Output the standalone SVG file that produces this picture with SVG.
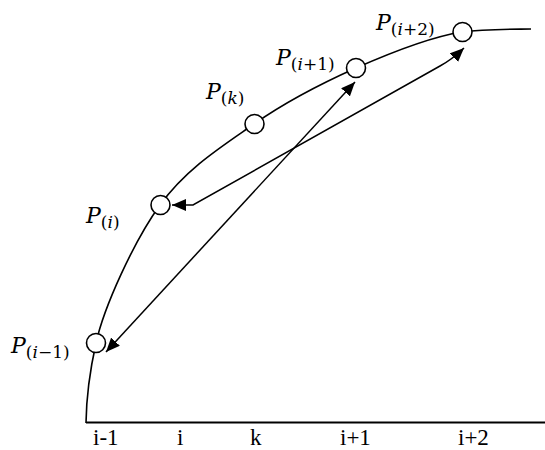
<svg xmlns="http://www.w3.org/2000/svg" width="545" height="450" viewBox="0 0 545 450">
<style>
.ln{fill:none;stroke:#000;stroke-width:1.6}
.pt{fill:#fff;stroke:#000;stroke-width:1.6}
.pl{font-family:"DejaVu Serif","Liberation Serif",serif;font-size:22px;fill:#000}
.it{font-style:italic}
.sub{font-size:17px}
.ax{font-family:"Liberation Serif","Times New Roman",serif;font-size:23px;fill:#000}
.ar{fill:none;stroke:#000;stroke-width:1.5;marker-start:url(#ah);marker-end:url(#ah)}
</style>
<defs>
<marker id="ah" viewBox="0 0 14 12" refX="14" refY="6" markerWidth="14" markerHeight="12" markerUnits="userSpaceOnUse" orient="auto-start-reverse">
<path d="M0,0 L14,6 L0,12 z" fill="#000"/>
</marker>
</defs>
<g id="axis">
<line class="ln" x1="86" y1="422.5" x2="545" y2="422.5" style="stroke-width:2"/>
<path id="curve" class="ln" d="M86,423 C86.3,400 88,379 96,343 C104,307 133.7,241.5 160,205 C186.3,168.5 221.3,146.8 254,124 C286.7,101.2 321.3,83.5 356,68 C390.7,52.7 433,36.5 462,32 C485,29 510,29.3 531,29"/>
<text class="ax" x="93" y="445">i-1</text>
<text class="ax" x="177" y="445">i</text>
<text class="ax" x="250" y="445">k</text>
<text class="ax" x="340" y="445">i+1</text>
<text class="ax" x="458" y="445">i+2</text>
</g>
<g id="connectors">
<path id="a1" class="ar" d="M106,352 L355,82"/>
<path id="a2" class="ar" d="M172,205 L193,205 L440,66 Q452,59.5 464,48"/>
</g>
<g id="p_im1">
<circle class="pt" cx="96" cy="343" r="9.5"/>
<text class="pl" x="11" y="353"><tspan class="it">P</tspan><tspan class="sub" dy="4.5">(<tspan class="it">i</tspan>−1)</tspan></text>
</g>
<g id="p_i">
<circle class="pt" cx="160.5" cy="205" r="9.5"/>
<text class="pl" x="86" y="223"><tspan class="it">P</tspan><tspan class="sub" dy="4.5">(<tspan class="it">i</tspan>)</tspan></text>
</g>
<g id="p_k">
<circle class="pt" cx="254.5" cy="124" r="9.5"/>
<text class="pl" x="206" y="99"><tspan class="it">P</tspan><tspan class="sub" dy="4.5">(<tspan class="it">k</tspan>)</tspan></text>
</g>
<g id="p_ip1">
<circle class="pt" cx="356" cy="68" r="9.5"/>
<text class="pl" x="276" y="65"><tspan class="it">P</tspan><tspan class="sub" dy="4.5">(<tspan class="it">i</tspan>+1)</tspan></text>
</g>
<g id="p_ip2">
<circle class="pt" cx="462.5" cy="32" r="9.5"/>
<text class="pl" x="376" y="30"><tspan class="it">P</tspan><tspan class="sub" dy="4.5">(<tspan class="it">i</tspan>+2)</tspan></text>
</g>
</svg>
